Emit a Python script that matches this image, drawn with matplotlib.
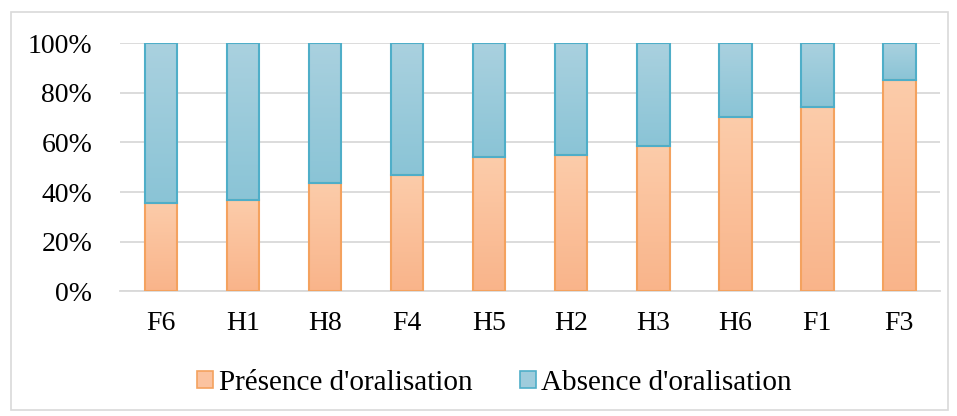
import numpy as np
import matplotlib
matplotlib.use("Agg")
import matplotlib.pyplot as plt
from matplotlib.colors import LinearSegmentedColormap
from matplotlib.patches import Rectangle

plt.rcParams["font.family"] = ["Liberation Serif", "DejaVu Serif"]

categories = ["F6", "H1", "H8", "F4", "H5", "H2", "H3", "H6", "F1", "F3"]
presence = [35.5, 36.7, 43.5, 46.8, 54.0, 54.8, 58.5, 70.2, 74.2, 85.0]
absence = [100 - v for v in presence]
labels = ["Présence d'oralisation", "Absence d'oralisation"]

C_OR_EDGE = "#F4A25F"
C_BL_EDGE = "#4FAEC8"
cm_or = LinearSegmentedColormap.from_list("or", ["#F9B48A", "#FCCCAA"])
cm_bl = LinearSegmentedColormap.from_list("bl", ["#8AC4D6", "#AAD1DF"])
grad = np.linspace(0, 1, 256).reshape(-1, 1)

fig = plt.figure(figsize=(9.57, 4.16), dpi=100)
ax = fig.add_axes([0.1254, 0.30, 0.857, 0.596])

width = 0.4
x = np.arange(len(categories))
for xi, p, a in zip(x, presence, absence):
    for bottom, h, cm, ec in ((0, p, cm_or, C_OR_EDGE), (p, a, cm_bl, C_BL_EDGE)):
        ax.imshow(grad, cmap=cm, aspect="auto", origin="lower",
                  extent=(xi - width / 2, xi + width / 2, bottom, bottom + h), zorder=2)
        ax.add_patch(Rectangle((xi - width / 2, bottom), width, h, fill=False,
                               edgecolor=ec, lw=1.5, zorder=3))

ax.set_xlim(-0.5, len(categories) - 0.5)
ax.set_ylim(0, 100)
ax.set_yticks(range(0, 101, 20))
ax.set_yticklabels([f"{v}%" for v in range(0, 101, 20)])
ax.set_xticks(x)
ax.set_xticklabels(categories)
ax.tick_params(length=0, labelsize=20)
ax.tick_params(axis="x", pad=14)
ax.tick_params(axis="y", pad=20)
ax.grid(axis="y", color="#D9D9D9", lw=1.3, zorder=0)
ax.set_axisbelow(True)
for s in ("top", "right", "left"):
    ax.spines[s].set_visible(False)
ax.spines["bottom"].set_color("#D9D9D9")
ax.spines["bottom"].set_linewidth(1.3)

handles = [Rectangle((0, 0), 1, 1, facecolor="#FBC3A0", edgecolor=C_OR_EDGE, lw=1.2),
           Rectangle((0, 0), 1, 1, facecolor="#9FCCDC", edgecolor=C_BL_EDGE, lw=1.2)]
fig.legend(handles, labels, loc="center", bbox_to_anchor=(0.517, 0.08), ncol=2,
           frameon=False, fontsize=21, handlelength=0.55, handleheight=0.55,
           handletextpad=0.2, columnspacing=1.6)

fig.add_artist(Rectangle((0.011, 0.015), 0.98, 0.955, transform=fig.transFigure,
                         fill=False, edgecolor="#D9D9D9", lw=1.2))

fig.savefig("out.png", dpi=100)
